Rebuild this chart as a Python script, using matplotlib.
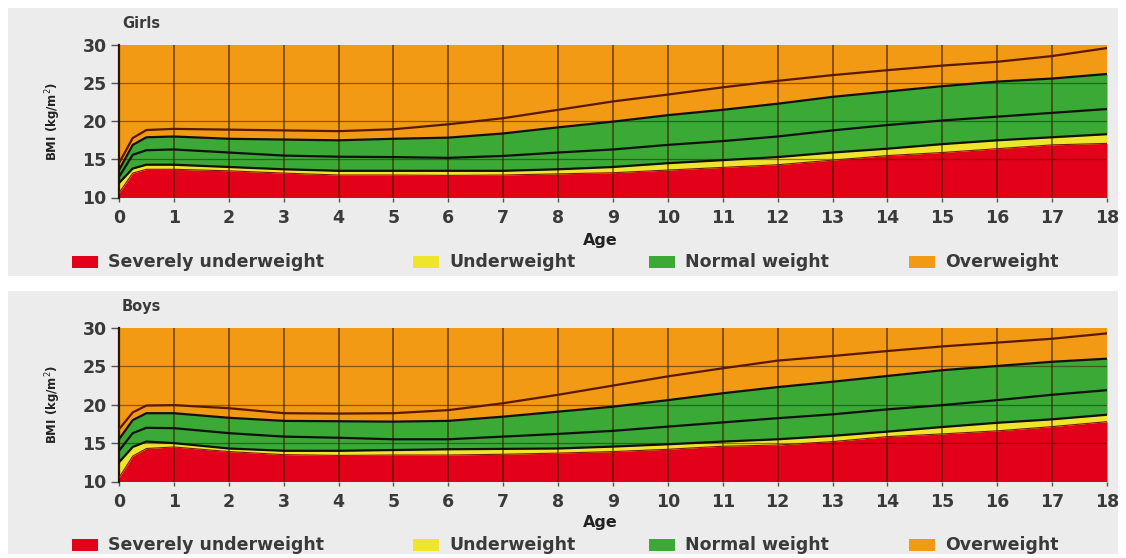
import matplotlib
matplotlib.use("Agg")
import matplotlib.pyplot as plt
from matplotlib.patches import Rectangle

ages = [0, 0.25, 0.5, 1, 2, 3, 4, 5, 6, 7, 8, 9, 10, 11, 12, 13, 14, 15, 16, 17, 18]

# girls BMI curves (kg/m2)
girls_red = [10.6, 13.2, 13.7, 13.7, 13.5, 13.2, 12.95, 12.95, 12.9, 12.95, 13.1, 13.25, 13.6, 13.95,
             14.3, 14.9, 15.5, 15.9, 16.4, 16.9, 17.1]
girls_yellow = [11.9, 13.8, 14.3, 14.3, 14.0, 13.7, 13.5, 13.5, 13.5, 13.5, 13.7, 14.0, 14.5, 14.9,
                15.3, 15.9, 16.4, 17.0, 17.5, 17.9, 18.3]
girls_median = [12.7, 15.6, 16.2, 16.3, 15.9, 15.5, 15.35, 15.3, 15.2, 15.45, 15.9, 16.3, 16.9, 17.4,
                18.0, 18.8, 19.5, 20.1, 20.6, 21.1, 21.6]
girls_green = [13.6, 16.9, 17.9, 18.0, 17.7, 17.6, 17.5, 17.7, 17.85, 18.4, 19.2, 19.95, 20.8, 21.5,
               22.3, 23.2, 23.9, 24.6, 25.2, 25.6, 26.2]
girls_top = [14.5, 17.8, 18.85, 19.0, 18.9, 18.8, 18.7, 18.95, 19.6, 20.4, 21.5, 22.6, 23.5, 24.45,
             25.3, 26.05, 26.7, 27.3, 27.8, 28.55, 29.6]

# boys BMI curves
boys_red = [10.5, 13.3, 14.3, 14.5, 13.9, 13.5, 13.4, 13.45, 13.45, 13.55, 13.7, 13.9, 14.2, 14.6,
            14.75, 15.2, 15.85, 16.2, 16.6, 17.15, 17.8]
boys_yellow = [12.5, 14.5, 15.2, 15.0, 14.3, 14.0, 14.0, 14.1, 14.2, 14.25, 14.3, 14.55, 14.85, 15.2,
               15.5, 15.95, 16.5, 17.1, 17.65, 18.1, 18.7]
boys_median = [14.0, 16.3, 17.0, 16.95, 16.3, 15.85, 15.7, 15.5, 15.5, 15.85, 16.2, 16.6, 17.15, 17.7,
               18.25, 18.75, 19.4, 19.95, 20.6, 21.3, 21.9]
boys_green = [15.5, 18.0, 18.9, 18.9, 18.3, 17.9, 17.85, 17.8, 17.9, 18.45, 19.1, 19.75, 20.6, 21.5,
              22.3, 23.0, 23.75, 24.5, 25.05, 25.6, 26.0]
boys_top = [16.8, 19.0, 19.9, 19.95, 19.55, 18.9, 18.85, 18.9, 19.3, 20.2, 21.3, 22.5, 23.7, 24.75,
            25.75, 26.35, 27.0, 27.6, 28.1, 28.6, 29.3]

categories = ["Severely underweight", "Underweight", "Normal weight", "Overweight"]
colors = ["#e2001a", "#efe52c", "#3aa936", "#f39a14"]

W, H = 1126, 558
fig = plt.figure(figsize=(W / 100, H / 100), dpi=100, facecolor="white")
TXT = "#3a3a3a"

# light grey panels behind each chart
for y0, y1 in [(8, 276), (291, 554)]:
    fig.patches.append(Rectangle((8 / W, 1 - y1 / H), 1110 / W, (y1 - y0) / H,
                                 transform=fig.transFigure, facecolor="#ececec",
                                 edgecolor="none", zorder=-10))

# legend box left edges (px) in the original layout
legend_x = [72, 413, 649, 909]


def legend_row(yc):
    for x, c, name in zip(legend_x, colors, categories):
        fig.patches.append(Rectangle((x / W, 1 - (yc + 6) / H), 26 / W, 12 / H,
                                     transform=fig.transFigure, facecolor=c, edgecolor="none"))
        fig.text((x + 36) / W, 1 - yc / H, name, fontsize=12.5, fontweight="bold",
                 color=TXT, ha="left", va="center")


def draw(rect, title, red, yellow, median, green, top, age_y, leg_y):
    ax = fig.add_axes(rect)
    ax.set_facecolor(colors[3])
    ax.fill_between(ages, 10, red, color=colors[0], lw=0, zorder=1)
    ax.fill_between(ages, red, yellow, color=colors[1], lw=0, zorder=1)
    ax.fill_between(ages, yellow, green, color=colors[2], lw=0, zorder=1)
    ax.plot(ages, red, color="#7a1a00", lw=0.8, zorder=3)
    for s in (yellow, median, green):
        ax.plot(ages, s, color="#111111", lw=1.6, zorder=3)
    ax.plot(ages, top, color="#5a1800", lw=1.6, zorder=3)

    for x in range(1, 18):
        ax.axvline(x, color="#3a2000", lw=1.1, alpha=0.75, zorder=2)
    for y in (15, 20, 25):
        ax.axhline(y, color="#3a2000", lw=0.9, alpha=0.55, zorder=2)

    ax.set_xlim(0, 18)
    ax.set_ylim(10, 30)
    ax.set_xticks(range(0, 19))
    ax.set_yticks([10, 15, 20, 25, 30])
    for sp in ("top", "right", "bottom"):
        ax.spines[sp].set_visible(False)
    ax.spines["left"].set_color("#2a1200")
    ax.spines["left"].set_linewidth(1.6)
    ax.tick_params(axis="both", colors="#555555", labelsize=12.5, width=1)
    ax.tick_params(axis="x", pad=5, length=3)
    ax.tick_params(axis="y", pad=3, length=6)
    for lab in ax.get_xticklabels() + ax.get_yticklabels():
        lab.set_fontweight("bold")
        lab.set_color(TXT)

    ax.set_ylabel("BMI (kg/m$^2$)", fontsize=8.5, fontweight="bold", color="#222222", labelpad=14)
    ax.text(0.003, 1.14, title, transform=ax.transAxes, fontsize=10.5, fontweight="bold",
            color=TXT, va="center", ha="left")
    fig.text(0.533, age_y, "Age", fontsize=11.5, fontweight="bold", color="#222222",
             ha="center", va="center")
    legend_row(leg_y)
    return ax


draw([119 / W, 1 - 197.5 / H, 988 / W, 152.5 / H], "Girls",
     girls_red, girls_yellow, girls_median, girls_green, girls_top,
     1 - 240 / H, 262)
draw([119 / W, 1 - 481.5 / H, 988 / W, 153.5 / H], "Boys",
     boys_red, boys_yellow, boys_median, boys_green, boys_top,
     1 - 522 / H, 545)

fig.savefig("out.png", dpi=100, facecolor="white")
